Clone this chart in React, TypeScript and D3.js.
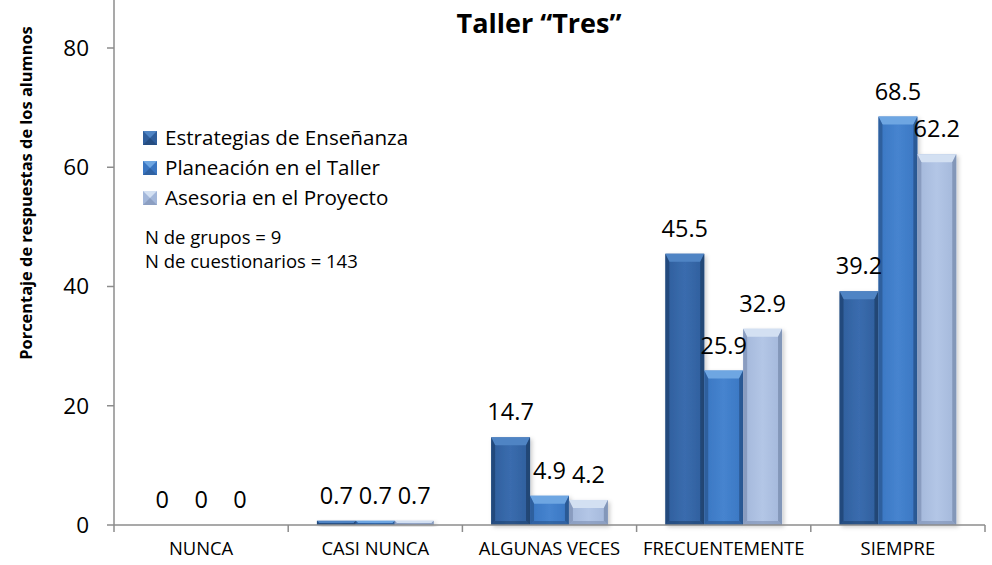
import React, { useRef, useEffect } from 'react';
import * as d3 from 'd3';

// chart values
const categories = ["NUNCA", "CASI NUNCA", "ALGUNAS VECES", "FRECUENTEMENTE", "SIEMPRE"];
const seriesNames = ["Estrategias de Enseñanza", "Planeación en el Taller", "Asesoria en el Proyecto"];
const estrategias = [0, 0.7, 14.7, 45.5, 39.2];
const planeacion = [0, 0.7, 4.9, 25.9, 68.5];
const asesoria = [0, 0.7, 4.2, 32.9, 62.2];
const yTicks = [0, 20, 40, 60, 80];
const notes = ["N de grupos = 9", "N de cuestionarios = 143"];

// face, top bevel, side, bottom
const palettes = [
  { face: "#2f5e9c", light: "#4f84c4", mid: "#3a6cae", dark: "#1f426f" },
  { face: "#3a76c2", light: "#6ea6e2", mid: "#4684cf", dark: "#28558e" },
  { face: "#a3b7da", light: "#d3e0f2", mid: "#b3c6e6", dark: "#7d90b3" },
];

const FONT = "'Open Sans', sans-serif";

const App = () => {
  const svgRef = useRef();
  const width = 992;
  const height = 565;
  const margin = { top: 48, right: 7, bottom: 40, left: 114 };

  useEffect(() => {
    document.body.style.margin = "0";
    const svg = d3.select(svgRef.current);
    svg.selectAll("*").remove();

    const x = d3.scaleBand()
      .domain(categories)
      .range([margin.left, width - margin.right])
      .padding(0);

    const y = d3.scaleLinear()
      .domain([0, 80])
      .range([height - margin.bottom, margin.top]);

    const gap = x.bandwidth() * 0.33;
    const x1 = d3.scaleBand()
      .domain(seriesNames)
      .range([gap / 2, x.bandwidth() - gap / 2])
      .padding(0);

    const rows = categories.map((c, i) => ({
      cat: c,
      vals: [estrategias[i], planeacion[i], asesoria[i]],
    }));

    // shadow filter
    const defs = svg.append("defs");
    const f = defs.append("filter").attr("id", "shadow").attr("x", "-20%").attr("y", "-20%")
      .attr("width", "150%").attr("height", "150%");
    f.append("feDropShadow").attr("dx", 2).attr("dy", 2).attr("stdDeviation", 2)
      .attr("flood-color", "#000").attr("flood-opacity", 0.2);

    palettes.forEach((p, i) => {
      const g = defs.append("linearGradient").attr("id", "grad" + i)
        .attr("x1", 0).attr("x2", 1).attr("y1", 0).attr("y2", 0);
      g.append("stop").attr("offset", "0%").attr("stop-color", p.face);
      g.append("stop").attr("offset", "50%").attr("stop-color", p.mid);
      g.append("stop").attr("offset", "100%").attr("stop-color", p.face);
    });

    // axes
    const axisColor = "#8c8c8c";
    const y0 = y(0);
    svg.append("line")
      .attr("x1", margin.left).attr("x2", margin.left)
      .attr("y1", 0).attr("y2", y0)
      .attr("stroke", axisColor).attr("stroke-width", 1.5);

    const yAxis = svg.append("g");
    yAxis.selectAll("line")
      .data(yTicks)
      .join("line")
      .attr("x1", margin.left - 7).attr("x2", margin.left)
      .attr("y1", d => y(d)).attr("y2", d => y(d))
      .attr("stroke", axisColor).attr("stroke-width", 1.5);
    yAxis.selectAll("text")
      .data(yTicks)
      .join("text")
      .attr("x", margin.left - 25)
      .attr("y", d => y(d))
      .attr("dy", "0.35em")
      .attr("text-anchor", "end")
      .attr("font-family", FONT)
      .attr("font-size", 22.5)
      .attr("fill", "#000")
      .text(d => d);

    // bars
    const barG = svg.append("g");
    rows.forEach(r => {
      r.vals.forEach((v, si) => {
        if (v <= 0) return;
        const bx = x(r.cat) + x1(seriesNames[si]);
        const bw = x1.bandwidth();
        const by = y(v);
        const bh = y0 - by;
        const p = palettes[si];
        const g = barG.append("g").attr("filter", "url(#shadow)");
        g.append("rect")
          .attr("x", bx).attr("y", by).attr("width", bw).attr("height", bh)
          .attr("fill", `url(#grad${si})`);
        const bt = Math.min(8, bh / 2);
        const bs = Math.min(4, bh / 2);
        const bb = Math.min(4, bh / 2);
        const pts = a => a.map(q => q.join(",")).join(" ");
        // top bevel
        g.append("polygon")
          .attr("points", pts([[bx, by], [bx + bw, by], [bx + bw - bs, by + bt], [bx + bs, by + bt]]))
          .attr("fill", p.light);
        // sides
        g.append("polygon")
          .attr("points", pts([[bx, by], [bx + bs, by + bt], [bx + bs, by + bh - bb], [bx, by + bh]]))
          .attr("fill", p.dark).attr("opacity", 0.7);
        g.append("polygon")
          .attr("points", pts([[bx + bw, by], [bx + bw - bs, by + bt], [bx + bw - bs, by + bh - bb], [bx + bw, by + bh]]))
          .attr("fill", p.dark).attr("opacity", 0.85);
        // bottom
        g.append("polygon")
          .attr("points", pts([[bx, by + bh], [bx + bs, by + bh - bb], [bx + bw - bs, by + bh - bb], [bx + bw, by + bh]]))
          .attr("fill", p.dark).attr("opacity", 0.6);
      });
    });

    // value labels
    const labG = svg.append("g");
    rows.forEach(r => {
      r.vals.forEach((v, si) => {
        labG.append("text")
          .attr("x", x(r.cat) + x1(seriesNames[si]) + x1.bandwidth() / 2)
          .attr("y", y(v) - 17)
          .attr("text-anchor", "middle")
          .attr("font-family", FONT)
          .attr("font-size", 23.5)
          .attr("fill", "#000")
          .text(v);
      });
    });

    // x axis
    svg.append("line")
      .attr("x1", margin.left).attr("x2", width - margin.right)
      .attr("y1", y0).attr("y2", y0)
      .attr("stroke", axisColor).attr("stroke-width", 1.5);
    const bounds = categories.map(c => x(c)).concat([x(categories[categories.length - 1]) + x.bandwidth()]);
    svg.append("g").selectAll("line")
      .data(bounds)
      .join("line")
      .attr("x1", d => d).attr("x2", d => d)
      .attr("y1", y0).attr("y2", y0 + 7)
      .attr("stroke", axisColor).attr("stroke-width", 1.5);
    svg.append("g").selectAll("text")
      .data(categories)
      .join("text")
      .attr("x", d => x(d) + x.bandwidth() / 2)
      .attr("y", y0 + 30)
      .attr("text-anchor", "middle")
      .attr("font-family", FONT)
      .attr("font-size", 18.4)
      .attr("fill", "#000")
      .text(d => d);

    // title
    svg.append("text")
      .attr("x", 539).attr("y", 33)
      .attr("text-anchor", "middle")
      .attr("font-family", FONT)
      .attr("font-weight", "bold")
      .attr("font-size", 27)
      .attr("fill", "#000")
      .text("Taller “Tres”");

    // y axis title
    svg.append("text")
      .attr("transform", "translate(32,193) rotate(-90)")
      .attr("text-anchor", "middle")
      .attr("font-family", FONT)
      .attr("font-weight", "bold")
      .attr("font-size", 16.4)
      .attr("fill", "#000")
      .text("Porcentaje de respuestas de los alumnos");

    // legend
    const leg = svg.append("g");
    seriesNames.forEach((s, i) => {
      const ly = 138 + i * 30;
      const p = palettes[i];
      const lg = leg.append("g");
      lg.append("rect").attr("x", 143).attr("y", ly - 7).attr("width", 14).attr("height", 14).attr("fill", p.face);
      lg.append("polygon")
        .attr("points", `143,${ly - 7} 157,${ly - 7} 150,${ly}`)
        .attr("fill", p.light);
      lg.append("polygon")
        .attr("points", `143,${ly + 7} 157,${ly + 7} 150,${ly}`)
        .attr("fill", p.dark).attr("opacity", 0.6);
      lg.append("text")
        .attr("x", 165).attr("y", ly)
        .attr("dy", "0.35em")
        .attr("font-family", FONT)
        .attr("font-size", 20.6)
        .attr("fill", "#000")
        .text(s);
    });
    notes.forEach((n, i) => {
      leg.append("text")
        .attr("x", 145).attr("y", 238 + i * 24)
        .attr("dy", "0.35em")
        .attr("font-family", FONT)
        .attr("font-size", 18.5)
        .attr("fill", "#000")
        .text(n);
    });
  }, []);

  return (
    <svg ref={svgRef} width={width} height={height} viewBox={`0 0 ${width} ${height}`}
      style={{ display: "block", background: "#fff" }}>
    </svg>
  );
};

export default App;
